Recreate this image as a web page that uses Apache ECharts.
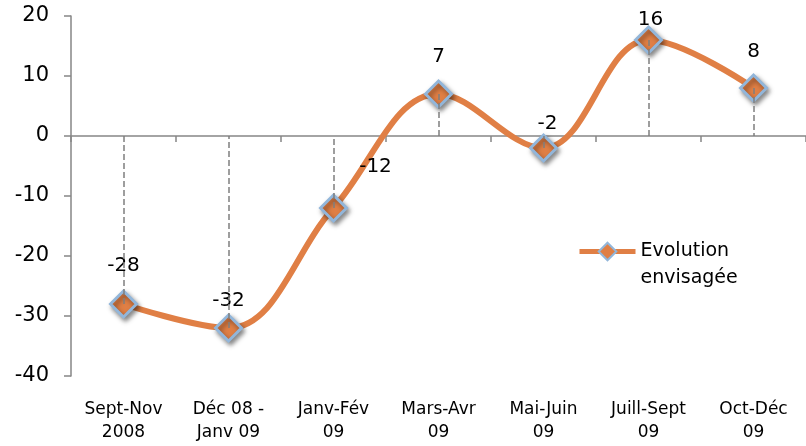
<!DOCTYPE html>
<html>
<head>
<meta charset="utf-8">
<script src="https://cdn.jsdelivr.net/npm/echarts@6/dist/echarts.min.js"></script>
<style>
  html, body { margin: 0; padding: 0; background: #fff; }
  #chart { width: 806px; height: 446px; }
</style>
</head>
<body>
<div id="chart"></div>
<script>
const categories = ['Sept-Nov\n2008', 'Déc 08 -\nJanv 09', 'Janv-Fév\n09', 'Mars-Avr\n09', 'Mai-Juin\n09', 'Juill-Sept\n09', 'Oct-Déc\n09']
const values = [-28, -32, -12, 7, -2, 16, 8]
const seriesName = 'Evolution envisagée'

// label placement, per point (layout only)
const labelOffsets = [[0, -38], [0, -27], [42, -41], [0, -37], [4, -24], [2, -20], [0, -36]]

const orange = '#E07F45'
const axisColor = '#868686'
const font = 'DejaVu Sans'

const myChart = echarts.init(document.getElementById('chart'))

const option = {
  animation: false,
  textStyle: { fontFamily: font },
  grid: { left: 71, right: 0, top: 16, bottom: 70 },
  legend: {
    left: 577,
    top: 211,
    padding: 0,
    orient: 'vertical',
    itemWidth: 56,
    itemHeight: 22,
    lineStyle: { width: 5 },
    // leading empty line keeps the icon level with the first text line
    formatter: name => '\n' + name.replace(' ', '\n'),
    textStyle: { fontFamily: font, fontSize: 19, color: '#000', lineHeight: 27 },
    data: [seriesName]
  },
  xAxis: [
    {
      type: 'category',
      data: categories,
      axisLine: { onZero: true, lineStyle: { color: axisColor, width: 1.5 } },
      axisTick: { show: true, inside: false, length: 6, lineStyle: { color: axisColor, width: 1.5 } },
      axisLabel: { show: false }
    },
    {
      type: 'category',
      data: categories,
      position: 'bottom',
      axisLine: { show: false },
      axisTick: { show: false },
      axisLabel: {
        margin: 22,
        fontFamily: font,
        fontSize: 17,
        lineHeight: 23,
        color: '#000'
      }
    }
  ],
  yAxis: {
    type: 'value',
    min: -40,
    max: 20,
    interval: 10,
    axisLine: { show: true, lineStyle: { color: axisColor, width: 1.5 } },
    axisTick: { show: true, length: 7, lineStyle: { color: axisColor, width: 1.5 } },
    splitLine: { show: false },
    axisLabel: { margin: 22, fontFamily: font, fontSize: 21, color: '#000' }
  },
  series: [
    {
      name: seriesName,
      type: 'line',
      xAxisIndex: 0,
      smooth: 0.38,
      data: values.map((v, i) => ({
        value: v,
        label: { offset: labelOffsets[i] }
      })),
      lineStyle: { color: orange, width: 6 },
      symbol: 'diamond',
      symbolSize: 26,
      itemStyle: {
        color: orange,
        borderColor: '#92B6DA',
        borderWidth: 3,
        shadowBlur: 5,
        shadowColor: 'rgba(0,0,0,0.45)',
        shadowOffsetX: 2,
        shadowOffsetY: 3
      },
      label: {
        show: true,
        position: 'inside',
        fontFamily: font,
        fontSize: 20,
        color: '#000'
      },
      markLine: {
        silent: true,
        symbol: ['none', 'none'],
        label: { show: false },
        lineStyle: { type: [6, 3], color: '#7f7f7f', width: 1.5 },
        data: values.map((v, i) => [{ coord: [i, v] }, { coord: [i, 0] }])
      }
    }
  ]
}

myChart.setOption(option)
</script>
</body>
</html>
